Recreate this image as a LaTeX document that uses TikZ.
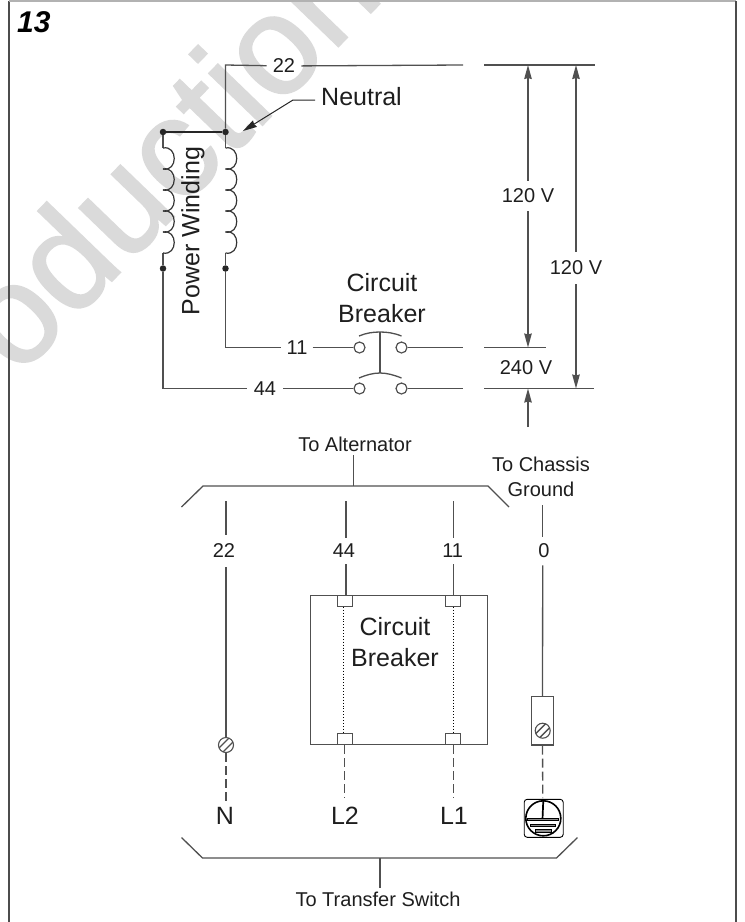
\documentclass[tikz,border=0pt]{standalone}
\usepackage{xcolor}
\usepackage{fontspec}
\setmainfont{Liberation Sans}
\newfontfamily\markfont[FakeBold=1.5]{Liberation Sans}
\usetikzlibrary{arrows.meta, positioning}
\definecolor{wirecol}{HTML}{505050}
\definecolor{textcol}{HTML}{1E1E1E}
\definecolor{markcol}{HTML}{DADADA}
\begin{document}
\begin{tikzpicture}[
  x=1pt, y=-1pt,
  wire/.style={line width=1.3pt, color=wirecol},
  dashwire/.style={wire, dash pattern=on 9pt off 4pt},
  inner/.style={line width=0.9pt, dotted, color=black},
  bracket/.style={line width=1.3pt, color=wirecol},
  volt/.style={wire, -{Stealth[length=14pt, width=7.5pt, inset=1pt]}},
  big/.style={font=\fontsize{25}{31}\selectfont, text=textcol, align=center, inner sep=0pt},
  small/.style={font=\fontsize{20}{25}\selectfont, text=textcol, align=center},
  wirelab/.style={small, inner xsep=5pt, inner ysep=9pt},
  voltlab/.style={small, inner xsep=0pt, inner ysep=8pt},
  dotnode/.style={circle, fill=black!85, minimum size=6.5pt, inner sep=0pt},
  contact/.style={circle, draw=wirecol, line width=1.2pt, fill=white, minimum size=11pt, inner sep=0pt},
  termbox/.style={draw=wirecol, line width=1.2pt, fill=white, minimum width=15pt, minimum height=11pt, inner sep=0pt},
  screw/.style={circle, draw=wirecol, line width=1.1pt, minimum size=15pt, inner sep=0pt,
    path picture={
      \foreach \d in {-2,2}
        \draw[wirecol, line width=1.3pt]
          ([shift={(-\d pt,\d pt)}]path picture bounding box.south west) --
          ([shift={(-\d pt,\d pt)}]path picture bounding box.north east);
    }},
  gndbar/.style={draw=black, line width=0.9pt, fill=black!45, inner sep=0pt}
]
  \useasboundingbox (0,0) rectangle (745,922);

  % watermark
  \begin{scope}
    \clip (0,0) rectangle (745,922);
    \node[rotate=46, anchor=base west, inner sep=0pt, text=markcol, font=\fontsize{140}{140}\markfont]
      (mark) at (18,378) {oduction};
  \end{scope}

  % page frame
  \coordinate (frameBL) at (9,922);
  \coordinate (frameTL) at (9,1);
  \coordinate (frameTR) at (736,1);
  \coordinate (frameBR) at (736,922);
  \draw[line width=1.1pt, color=black!70] (frameBL) -- (frameTL);
  \draw[line width=1.1pt, color=black!30] (frameTL) -- (frameTR);
  \draw[line width=1.1pt, color=black!70] (frameTR) -- (frameBR);
  \node[anchor=base west, inner sep=0pt, font=\fontsize{30}{30}\selectfont\bfseries\itshape] (figno) at (17,32) {13};

  % upper schematic
  \coordinate (c22) at (225.5,65);
  \coordinate (r22a) at (463,65);
  \coordinate (r22b) at (484,65);
  \coordinate (r22c) at (595,65);
  \node[dotnode] (nodeN) at (225.5,132) {};
  \node[dotnode] (nodeL) at (163,132) {};
  \node[dotnode] (lowR) at (225.5,268.5) {};
  \node[dotnode] (lowL) at (163,268.5) {};
  \coordinate (topR) at (225.5,148);
  \coordinate (topL) at (163,148);
  \coordinate (botR) at (225.5,253);
  \coordinate (botL) at (163,253);
  \coordinate (c11) at (225.5,347.5);
  \coordinate (c44) at (163,388.5);
  \node[wirelab, inner xsep=6pt] (lab22) at (284,66) {22};
  \node[wirelab, inner xsep=5pt] (lab11) at (297,347.5) {11};
  \node[wirelab, inner xsep=7pt] (lab44) at (265,388.5) {44};

  \draw[wire] (lab22) -- (c22) -- (nodeN);
  \draw[wire] (lab22) -- (r22a);
  \draw[wire] (r22b) -- (r22c);
  \draw[wire, line width=1.7pt, color=black!85] (nodeL) -- (nodeN);
  \draw[wire] (nodeN) -- (topR);
  \draw[wire] (nodeL) -- (topL);
  \draw[wire] (botR) -- (lowR) -- (c11) -- (lab11);
  \draw[wire] (botL) -- (lowL) -- (c44) -- (lab44);
  \foreach \wx in {163,225.5}
    \foreach \k in {0,...,4}
      \draw[line width=1.2pt, color=black!80] (\wx,{148+21*\k}) .. controls +(15,-3) and +(15,3) .. (\wx,{169+21*\k});
  \node[small, big, rotate=90] (labPW) at (193,231) {Power Winding};

  % neutral leader
  \node[big, anchor=west] (labN) at (321,97) {Neutral};
  \coordinate (nbend) at (293,100);
  \coordinate (ntip) at (243,131);
  \draw[line width=1pt, color=black!85, -{Stealth[length=14pt, width=7.5pt, inset=1pt]}]
    ([xshift=-6pt]labN.west |- nbend) -- (nbend) -- (ntip);

  % breaker contacts
  \node[big] (labCB) at (382,298.5) {Circuit\\Breaker};
  \node[contact] (s11l) at (359.5,347.5) {};
  \node[contact] (s11r) at (401.5,347.5) {};
  \node[contact] (s44l) at (359.5,388.5) {};
  \node[contact] (s44r) at (401.5,388.5) {};
  \coordinate (barT) at (380,332);
  \coordinate (barB) at (380,373);
  \coordinate (r11a) at (463,347.5);
  \coordinate (r11b) at (484,347.5);
  \coordinate (r11c) at (546,347.5);
  \coordinate (r44a) at (463,388.5);
  \coordinate (r44b) at (484,388.5);
  \coordinate (r44c) at (594,388.5);
  \draw[wire] (lab11) -- (s11l);
  \draw[wire] (lab44) -- (s44l);
  \draw[wire] (s11r) -- (r11a);
  \draw[wire] (s44r) -- (r44a);
  \draw[wire] (r11b) -- (r11c);
  \draw[wire] (r44b) -- (r44c);
  \draw[wire] (barT) -- (barB);
  \draw[wire] (359,336) .. controls (366,333) and (373,332) .. (barT) .. controls (387,332) and (394,333) .. (401.5,336);
  \draw[wire] (359,378) .. controls (366,375) and (373,373) .. (barB) .. controls (387,373) and (394,375) .. (401.5,378);

  % voltages
  \coordinate (a1t) at (528,65);
  \coordinate (a1b) at (528,347.5);
  \coordinate (a2t) at (576,65);
  \coordinate (a2b) at (576,388.5);
  \coordinate (a3t) at (528,388.5);
  \coordinate (a3b) at (528,427);
  \node[voltlab] (v120a) at (528,196) {120 V};
  \node[voltlab, inner ysep=9pt] (v120b) at (576,268) {120 V};
  \node[small, inner sep=0pt] (v240) at (526,367.5) {240 V};
  \draw[volt] (v120a) -- (a1t);
  \draw[volt] (v120a) -- (a1b);
  \draw[volt] (v120b) -- (a2t);
  \draw[volt] (v120b) -- (a2b);
  \draw[volt] (a3b) -- (a3t);

  % top bracket
  \coordinate (brTa) at (181.5,507);
  \coordinate (brTb) at (203,486);
  \coordinate (brTc) at (353.5,486);
  \coordinate (brTd) at (488,486);
  \coordinate (brTe) at (509,507);
  \node[small, inner ysep=3pt] (toAlt) at (355,444) {To Alternator};
  \node[small, inner sep=0pt] (toGnd) at (541,476.5) {To Chassis\\Ground};
  \draw[bracket] (brTa) -- (brTb) -- (brTc) -- (brTd) -- (brTe);
  \draw[bracket] (brTc) -- (brTc |- toAlt.south);

  % lower wires
  \coordinate (w22) at (226,501);
  \coordinate (w44) at (346,501);
  \coordinate (w11) at (453.7,501);
  \coordinate (w0) at (542.7,505);
  \node[wirelab] (lab22b) at (224,551) {22};
  \node[wirelab, inner ysep=6pt] (lab44b) at (344,551) {44};
  \node[wirelab, inner ysep=6pt] (lab11b) at (452.7,551) {11};
  \node[wirelab, inner ysep=7pt] (lab0) at (544,551) {0};

  \draw[draw=wirecol, line width=1.2pt] (310.7,595.3) rectangle (487.3,744.7);
  \node[big] (labBox) at (395,642.5) {Circuit\\Breaker};
  \node[termbox] (t44) at (344.8,600.8) {};
  \node[termbox] (t11) at (453.2,600.8) {};
  \node[termbox] (b44) at (344.8,739) {};
  \node[termbox] (b11) at (453.2,739) {};
  \node[screw] (screwN) at (226,745) {};
  \node[draw=wirecol, line width=1.2pt, minimum width=22pt, minimum height=48.5pt, inner sep=0pt] (gndBox) at (542.5,720.8) {};
  \node[screw] (screwG) at (542.7,730.7) {};

  \draw[wire] (w22) -- (w22 |- lab22b.north);
  \draw[wire] (w22 |- lab22b.south) -- (screwN);
  \draw[wire] (w44) -- (w44 |- lab44b.north);
  \draw[wire] (w44 |- lab44b.south) -- (w44 |- t44.north);
  \draw[wire] (w11) -- (w11 |- lab11b.north);
  \draw[wire] (w11 |- lab11b.south) -- (w11 |- t11.north);
  \draw[wire] (w0) -- (w0 |- lab0.north);
  \draw[wire] (w0 |- lab0.south) -- (gndBox);
  \draw[inner] ([xshift=-1.5pt]t44.south) -- ([xshift=-1.5pt]b44.north);
  \draw[inner] ([xshift=0.5pt]t11.south) -- ([xshift=0.5pt]b11.north);

  % outgoing dashes and labels
  \node[big] (labNN) at (225,816) {N};
  \node[big] (labL2) at (345,816) {L2};
  \node[big] (labL1) at (454,816) {L1};
  \coordinate (dN) at (226,802);
  \coordinate (dL2) at (344.8,798);
  \coordinate (dL1) at (453.2,798);
  \coordinate (dG) at (542.7,798);
  \draw[dashwire] (screwN) -- (dN);
  \draw[dashwire] (b44.south) -- (dL2);
  \draw[dashwire] (b11.south) -- (dL1);
  \draw[dashwire] (gndBox) -- (dG);

  % ground symbol
  \node[draw=black, line width=0.9pt, rounded corners=3pt, minimum width=39pt, minimum height=38pt, inner sep=0pt] (gndSym) at (543.7,818.3) {};
  \node[circle, draw=black, line width=1.6pt, minimum size=35pt, inner sep=0pt] (gndRing) at (543.3,818.3) {};
  \node[gndbar, minimum width=31pt, minimum height=2.2pt] (bar1) at (542.5,819.5) {};
  \node[gndbar, minimum width=25pt, minimum height=2.8pt] (bar2) at (543.2,825.5) {};
  \node[gndbar, minimum width=16pt, minimum height=2.8pt] (bar3) at (543,831) {};
  \draw[line width=1.7pt, color=black] (gndRing.north) -- (bar1);

  % bottom bracket
  \coordinate (brBa) at (181.5,837.5);
  \coordinate (brBb) at (202.5,858);
  \coordinate (brBc) at (380,858);
  \coordinate (brBd) at (556.5,858);
  \coordinate (brBe) at (577.5,837.5);
  \node[small, inner ysep=4pt] (toTS) at (378,899.5) {To Transfer Switch};
  \draw[bracket] (brBa) -- (brBb) -- (brBc) -- (brBd) -- (brBe);
  \draw[bracket] (brBc) -- (brBc |- toTS.north);
\end{tikzpicture}
\end{document}
